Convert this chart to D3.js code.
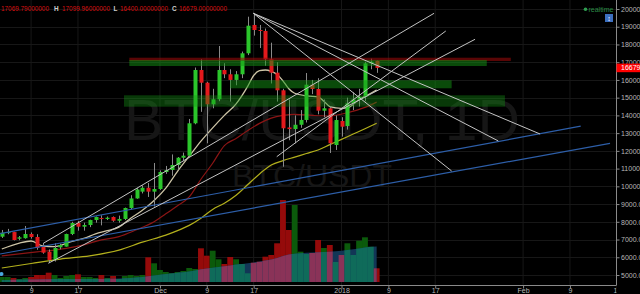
<!DOCTYPE html>
<html><head><meta charset="utf-8">
<style>html,body{margin:0;padding:0;background:#000;overflow:hidden}</style>
<script src="https://cdn.jsdelivr.net/npm/d3@7/dist/d3.min.js"></script>
</head><body>
<svg id="c" width="640" height="294"></svg>
<script>
// ---------- DATA (daily BTC/USDT, first candle 2017-11-04) ----------
const firstDay = "2017-11-04";
const opens  = [7160,7386,7420,7046,7077,7312,7143,6580,6315,5847,6560,6600,7312,7932,7724,7820,8100,8216,8160,8270,8060,8160,8779,9317,9700,9920,9700,9850,10808,10921,11203,11614,11727,13555,16560,15844,14626,14908,16560,16318,16000,16318,17502,19098,18816,18760,17164,16409,15416,13320,13230,13472,13743,15732,15490,14266,14401,12330,13684,13400,14683,14900,15054,16938,17069.79];
const highs  = [7540,7600,7440,7200,7763,7400,7300,6800,6440,6787,6760,7330,8000,8050,7950,8120,8300,8370,8300,8300,8350,8800,9500,9900,10050,10190,11316,10900,11150,11800,11650,11900,13800,16700,17164,15900,15500,17913,16945,16600,16500,17600,19566,19757,19100,18900,18100,17000,15500,14900,14000,14300,16390,16000,16100,14900,14500,14000,13900,15000,15300,15500,17028,17200,17099.96];
const lows   = [7090,7300,6950,6960,7050,7050,6423,6200,5677,5760,6450,6600,7250,7500,7500,7700,7950,7800,8100,8000,7950,8100,8700,9300,9600,9400,8858,9800,10700,10600,10950,11450,11700,13500,14200,12427,14400,14800,16100,14780,15700,16100,17400,18500,17800,16800,15800,14780,11105,12600,12427,13300,13600,15200,14060,13900,11880,12050,12800,13200,14300,14500,14800,16600,16400];
const closes = [7386,7420,6974,7125,7312,7143,6522,6258,5847,6523,6693,7312,7932,7724,7820,8100,8270,8160,8230,8060,8160,8779,9317,9823,9920,9700,9850,10808,10921,11203,11614,11727,13555,16560,15844,14626,14908,16560,16318,16000,16318,17502,19058,18816,18760,17164,16409,15416,13273,13230,13472,13743,15732,15490,14266,14401,12427,13740,13363,14683,14900,15054,16938,17028,16679];
const volumes = [5000,5000,4000,3000,4000,5000,7000,7000,9300,7000,4000,6000,7000,7700,5000,5000,4000,7000,4000,6000,3000,6000,7000,6000,7000,24700,18700,12000,10000,9000,10000,11000,14000,13000,33700,26300,31300,22700,18000,25000,22700,18000,8700,19300,20300,25300,27000,38700,82000,52000,77000,30300,28000,29000,42000,34000,37000,20000,27000,38700,27000,41300,44700,35300,13700];
const volMA = [2000,2100,2200,2300,2400,2500,2600,2700,2800,2900,2900,3000,3000,3000,3000,3000,3000,3100,3200,3300,3500,3800,4100,4500,5000,5800,6500,7200,7900,8600,9200,9800,10500,11500,12700,13500,14300,15100,15800,16600,17400,18100,18800,19600,20500,21500,22600,24000,26000,27500,28300,28800,29200,29500,29800,30000,30300,30700,31300,32000,32800,33600,34400,35200,35500];
// moving averages: [day offset from first candle, price]
const maFast = [[0,6466],[3,6800],[5,6917],[7,6635],[9,6600],[12,6900],[14,7060],[16,7320],[18,7500],[20,7700],[22,8200],[24,8650],[26,9200],[28,9900],[30,10850],[32,11700],[34,12550],[36,13300],[38,14000],[40,14650],[42,15650],[43,16250],[44,16520],[45,16560],[46,16480],[47,16300],[48,15950],[49,15500],[50,15250],[52,15100],[54,15050],[55,14800],[56,14500],[58,14400],[59,14420],[61,14900],[63,15250],[64,15432]];
const maMid  = [[0,6080],[6,6300],[11,6500],[14,6700],[17,6980],[20,7160],[23,7550],[26,8000],[28,8450],[30,8900],[32,9400],[34,10400],[36,11300],[38,12300],[40,12700],[42,13150],[44,13550],[46,13850],[48,14000],[50,14060],[53,14000],[56,13966],[59,14150],[62,14450],[64,14750]];
const maSlow = [[0,5395],[5,5650],[10,5900],[15,6080],[20,6400],[24,6850],[28,7250],[30,7500],[32,7800],[34,8200],[36,8700],[38,9050],[40,9500],[42,10100],[44,10700],[46,11200],[48,11450],[50,11650],[52,11850],[54,12050],[56,12350],[58,12650],[60,12950],[62,13250],[64,13554]];
// drawn zones: [start day, end day, top price, bottom price, opacity]
const zonesRed   = [[21.77,86.9,17253,17068]];
const zonesGreen = [[21.77,82.8,17124,16785,0.5],[38.96,76.8,15980,15529,0.5],[20.86,85.9,15134,14491,0.38]];
// drawn trend lines: [[day, price],[day, price]]
const whiteLines = [[[7.09,6788],[73.8,19758]],[[7.94,5660],[80.8,18292]],[[46.94,11671],[75.8,18759]],[[42.94,19757],[91.9,12951]],[[42.94,19757],[84.77,12557]],[[42.94,19757],[76.8,10865]]];
const blueLines  = [[[-0.31,7335],[98.84,13391]],[[-0.31,6185],[103.84,12427]]];
// axes
const xTickDates  = ["2017-11-09","2017-11-17","2017-12-01","2017-12-09","2017-12-17","2018-01-01","2018-01-09","2018-01-17","2018-02-01","2018-02-09","2018-02-17"];
const xTickLabels = ["9","17","Dec","9","17","2018","9","17","Feb","9","17"];
const yTicks = [5000,6000,7000,8000,9000,10000,11000,12000,13000,14000,15000,16000,17000,18000,19000,20000];

// ---------- SCALES ----------
const DAY = 864e5;
const t0 = new Date(firstDay + "T00:00:00Z").getTime();
const dayDate = d => new Date(t0 + d * DAY);
const x = d3.scaleUtc().domain([new Date("2017-11-09T00:00:00Z"), new Date("2018-02-17T00:00:00Z")]).range([31.1, 616.8]);
const xd = d => x(dayDate(d));
const y = d3.scaleLinear().domain([5000, 20000]).range([275, 9]);
const yv = d3.scaleLinear().domain([0, 100000]).range([282, 182]);
const dayW = xd(1) - xd(0);

const UP = "#2bc62b", DOWN = "#e3191c";
const FONT = "'Liberation Sans', Arial, sans-serif";

const svg = d3.select("#c");
svg.append("rect").attr("width", 640).attr("height", 294).attr("fill", "#000");
const defs = svg.append("defs");
defs.append("clipPath").attr("id", "plot").append("rect").attr("x", 0).attr("y", 0).attr("width", 616).attr("height", 285);
defs.append("clipPath").attr("id", "xlab").append("rect").attr("x", -5).attr("y", -5).attr("width", 621.5).attr("height", 20);

const g = svg.append("g").attr("clip-path", "url(#plot)");

// grid
g.selectAll(null).data(xTickDates).join("line")
  .attr("x1", d => x(new Date(d + "T00:00:00Z"))).attr("x2", d => x(new Date(d + "T00:00:00Z")))
  .attr("y1", 0).attr("y2", 285).attr("stroke", "#171717").attr("stroke-width", 1);
g.selectAll(null).data(yTicks).join("line")
  .attr("x1", 0).attr("x2", 616).attr("y1", d => Math.round(y(d)) + 0.5).attr("y2", d => Math.round(y(d)) + 0.5)
  .attr("stroke", "#171717").attr("stroke-width", 1);

// watermark
g.append("text").attr("x", 124).attr("y", 140).attr("font-family", FONT).attr("font-size", 57)
  .attr("fill", "#161616").attr("textLength", 396).attr("lengthAdjust", "spacingAndGlyphs").text("BTC/USDT, 1D");
g.append("text").attr("x", 232).attr("y", 187).attr("font-family", FONT).attr("font-size", 32)
  .attr("fill", "#161616").text("BTC/USDT");

// ---------- VOLUME ----------
const idx = d3.range(opens.length);
const isUp = i => closes[i] >= opens[i];
const volG = g.append("g");
volG.selectAll(null).data(idx).join("rect")
  .attr("x", i => xd(i) - dayW / 2).attr("width", dayW)
  .attr("y", i => yv(volumes[i])).attr("height", i => yv(0) - yv(volumes[i]))
  .attr("fill", i => isUp(i) ? "#0b5a0b" : "#950a0a");
const areaGen = d3.area().x((d, i) => xd(i)).y0(yv(0)).y1(d => yv(d));
const areaPath = areaGen(volMA);
volG.append("path").attr("d", areaPath).attr("fill", "#123656");
defs.append("clipPath").attr("id", "volarea").append("path").attr("d", areaPath);
volG.append("g").attr("clip-path", "url(#volarea)").selectAll(null).data(idx).join("rect")
  .attr("x", i => xd(i) - dayW / 2).attr("width", dayW)
  .attr("y", i => yv(volumes[i])).attr("height", i => yv(0) - yv(volumes[i]))
  .attr("fill", i => isUp(i) ? "#0f6b5a" : "#8a3358");

// ---------- MOVING AVERAGES ----------
const maLine = d3.line().x(d => xd(d[0])).y(d => y(d[1])).curve(d3.curveMonotoneX);
g.append("path").attr("d", maLine(maSlow)).attr("fill", "none").attr("stroke", "#b3b01c").attr("stroke-width", 1.2);
g.append("path").attr("d", maLine(maMid)).attr("fill", "none").attr("stroke", "#8c1515").attr("stroke-width", 1.2);
g.append("path").attr("d", maLine(maFast)).attr("fill", "none").attr("stroke", "#cdc4a6").attr("stroke-width", 1.3);

// ---------- CANDLES ----------
const cg = g.append("g");
cg.selectAll(null).data(idx).join("line")
  .attr("x1", i => Math.round(xd(i)) + 0.5).attr("x2", i => Math.round(xd(i)) + 0.5)
  .attr("y1", i => y(highs[i])).attr("y2", i => y(lows[i]))
  .attr("stroke", "#8a8a8a").attr("stroke-width", 1);
cg.selectAll(null).data(idx).join("rect")
  .attr("x", i => Math.round(xd(i)) + 0.5 - 2).attr("width", 4)
  .attr("y", i => y(Math.max(opens[i], closes[i])))
  .attr("height", i => Math.max(1, Math.abs(y(opens[i]) - y(closes[i]))))
  .attr("fill", i => isUp(i) ? UP : DOWN);

// ---------- DRAWINGS ----------
g.selectAll(null).data(zonesRed).join("rect")
  .attr("x", d => xd(d[0])).attr("width", d => xd(d[1]) - xd(d[0]))
  .attr("y", d => y(d[2])).attr("height", d => y(d[3]) - y(d[2]))
  .attr("fill", "rgb(150,10,10)").attr("fill-opacity", 0.6);
g.selectAll(null).data(zonesGreen).join("rect")
  .attr("x", d => xd(d[0])).attr("width", d => xd(d[1]) - xd(d[0]))
  .attr("y", d => y(d[2])).attr("height", d => y(d[3]) - y(d[2]))
  .attr("fill", "rgb(20,150,20)").attr("fill-opacity", d => d[4]);
const seg = d3.line().x(d => xd(d[0])).y(d => y(d[1]));
g.selectAll(null).data(blueLines).join("path").attr("d", seg)
  .attr("fill", "none").attr("stroke", "#2d5ea8").attr("stroke-width", 1.2);
g.selectAll(null).data(whiteLines).join("path").attr("d", seg)
  .attr("fill", "none").attr("stroke", "#c4c4c4").attr("stroke-width", 1);
g.append("circle").attr("cx", 1.5).attr("cy", 274).attr("r", 2).attr("fill", "#4aa8e0");

// ---------- AXES ----------
const xAxis = d3.axisBottom(x).tickValues(xTickDates.map(d => new Date(d + "T00:00:00Z")))
  .tickFormat((d, i) => xTickLabels[i]).tickSize(3).tickSizeOuter(0);
const gx = svg.append("g").attr("transform", "translate(0,285.5)").attr("clip-path", "url(#xlab)").call(xAxis);
gx.select(".domain").attr("stroke", "#8a8a8a").attr("d", "M0,0H616.5");
gx.selectAll(".tick line").attr("stroke", "#8a8a8a");
gx.selectAll(".tick text").attr("fill", "#b8b8b8").attr("font-family", FONT).attr("font-size", 7)
  .attr("y", 2.5).attr("dy", "0.71em");

const yAxis = d3.axisRight(y).tickValues(yTicks).tickFormat(d => d.toFixed(8)).tickSize(3).tickSizeOuter(0);
const gy = svg.append("g").attr("transform", "translate(616.5,0)").call(yAxis);
gy.select(".domain").attr("stroke", "#8a8a8a").attr("d", "M0,0V285.5");
gy.selectAll(".tick line").attr("stroke", "#8a8a8a");
gy.selectAll(".tick text").attr("fill", "#b8b8b8").attr("font-family", FONT).attr("font-size", 7).attr("x", 4.5);

// last price label
const last = closes.length - 1;
svg.append("rect").attr("x", 616.5).attr("y", y(closes[last]) - 4.3).attr("width", 24).attr("height", 8.6).attr("fill", "#ff0000");
svg.append("text").attr("x", 621).attr("y", y(closes[last]) + 2.5).attr("font-family", FONT).attr("font-size", 7)
  .attr("fill", "#fff").text(closes[last].toFixed(8));

// ---------- HEADER ----------
const RED = "#d81010", LBL = "#d0d0d0";
const header = [
  [opens[last].toFixed(8), 1, RED], ["H", 54, LBL], [highs[last].toFixed(8), 62, RED],
  ["L", 113.5, LBL], [lows[last].toFixed(8), 120, RED], ["C", 172, LBL], [closes[last].toFixed(8), 179, RED]
];
svg.selectAll(null).data(header).join("text")
  .attr("x", d => d[1]).attr("y", 10.5).attr("font-family", FONT).attr("font-size", 6.4)
  .attr("font-weight", d => d[2] === LBL ? "bold" : "normal")
  .attr("fill", d => d[2]).text(d => d[0]);

svg.append("circle").attr("cx", 585.5).attr("cy", 9.3).attr("r", 1.8).attr("fill", "#2e9e50");
svg.append("text").attr("x", 588.5).attr("y", 11.6).attr("font-family", FONT).attr("font-size", 7)
  .attr("fill", "#2a8a45").text("realtime");
svg.append("rect").attr("x", 605).attr("y", 14).attr("width", 8).attr("height", 8).attr("fill", "#3c6fbf");
svg.append("text").attr("x", 609).attr("y", 20.5).attr("text-anchor", "middle").attr("font-family", FONT)
  .attr("font-size", 7).attr("fill", "#fff").text("↕");
</script>
</body></html>
